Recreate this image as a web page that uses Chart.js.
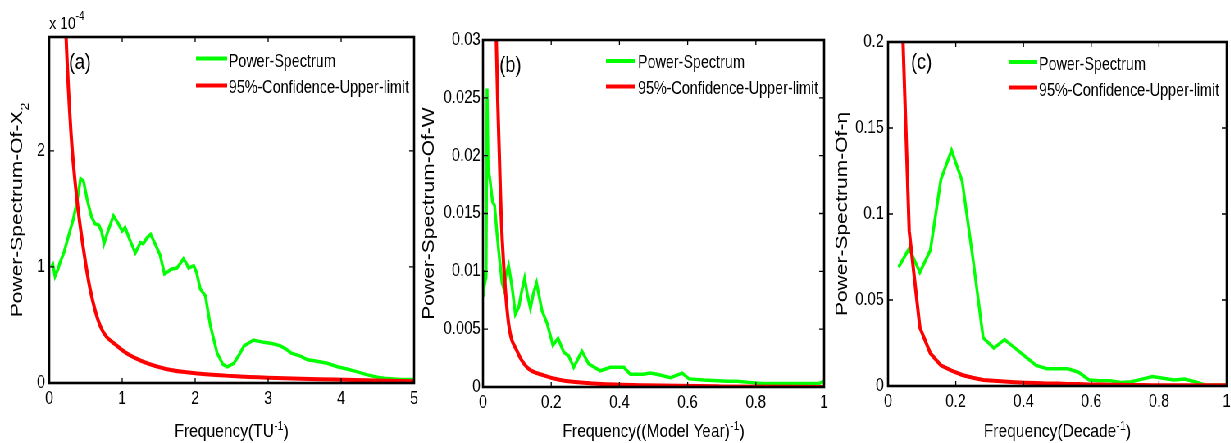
<!DOCTYPE html>
<html lang="en">
<head>
<meta charset="UTF-8">
<title>Power spectra</title>
<script src="https://cdn.jsdelivr.net/npm/chart.js"></script>
<style>
  html, body { margin: 0; padding: 0; background: #fff; overflow: hidden; }
  /* the reference is horizontally squeezed, so draw wide and squeeze */
  #wrap { position: relative; width: 1501px; height: 443px; transform: scaleX(0.82); transform-origin: 0 0; }
  canvas { position: absolute; top: 0; }
</style>
</head>
<body>
<div id="wrap">
  <canvas id="chartA" width="510" height="443" style="left:0px"></canvas>
  <canvas id="chartB" width="500" height="443" style="left:510px"></canvas>
  <canvas id="chartC" width="491" height="443" style="left:1010px"></canvas>
</div>
<script>
// ---- panel (a): values in units of 1e-4 ----
const freqASpec = [0.03,0.05,0.08,0.12,0.15,0.2,0.24,0.28,0.33,0.38,0.43,0.47,0.52,0.58,0.63,0.68,0.72,0.75,0.8,0.88,0.94,1.0,1.04,1.1,1.18,1.25,1.29,1.34,1.39,1.45,1.52,1.58,1.63,1.67,1.75,1.84,1.88,1.91,1.98,2.02,2.07,2.14,2.21,2.3,2.38,2.44,2.53,2.6,2.67,2.8,2.94,3.05,3.17,3.25,3.31,3.45,3.54,3.65,3.81,3.95,4.08,4.2,4.36,4.5,4.59,4.8,5.0];
const specA     = [1.0,1.02,0.92,0.98,1.04,1.12,1.21,1.3,1.41,1.56,1.76,1.74,1.58,1.43,1.37,1.36,1.3,1.2,1.3,1.44,1.38,1.31,1.34,1.24,1.12,1.21,1.2,1.25,1.28,1.2,1.1,0.94,0.96,0.98,0.99,1.07,1.03,0.99,1.01,0.95,0.81,0.75,0.49,0.26,0.16,0.14,0.17,0.24,0.32,0.37,0.35,0.34,0.32,0.29,0.26,0.23,0.2,0.19,0.17,0.14,0.12,0.1,0.07,0.05,0.04,0.03,0.03];
const freqAConf = [0.19,0.23,0.3,0.38,0.47,0.56,0.7,0.93,1.16,1.6,2.07,2.5,3.0,3.9,5.0];
const confA     = [3.8,3.0,2.14,1.58,1.15,0.81,0.49,0.32,0.22,0.12,0.08,0.06,0.045,0.03,0.015];
const xTicksA = [0,1,2,3,4,5];
const xLabelsA = ['0','1','2','3','4','5'];
const yTicksA = [0,1,2];
const yLabelsA = ['0','1','2'];

// ---- panel (b) ----
const freqBSpec = [0.002,0.004,0.007,0.009,0.012,0.015,0.021,0.028,0.034,0.041,0.048,0.056,0.061,0.068,0.075,0.085,0.095,0.105,0.113,0.122,0.13,0.139,0.148,0.157,0.165,0.173,0.188,0.205,0.22,0.237,0.251,0.266,0.278,0.29,0.31,0.344,0.374,0.413,0.432,0.47,0.49,0.51,0.55,0.584,0.604,0.648,0.716,0.745,0.78,0.814,0.863,0.96,0.985,1.0];
const specB     = [0.0078,0.0101,0.0092,0.0095,0.0258,0.019,0.0178,0.016,0.0157,0.0133,0.0112,0.009,0.0085,0.0098,0.0105,0.0087,0.0063,0.0069,0.0082,0.0094,0.008,0.0068,0.0081,0.009,0.0078,0.0066,0.0055,0.0036,0.0042,0.003,0.0027,0.0017,0.0024,0.0031,0.002,0.0014,0.0017,0.0017,0.0011,0.0011,0.0012,0.0011,0.0008,0.0012,0.0007,0.0006,0.0005,0.0005,0.0004,0.0003,0.0003,0.0003,0.0003,0.0005];
const freqBConf = [0.035,0.039,0.043,0.048,0.053,0.061,0.075,0.1,0.129,0.178,0.227,0.325,0.47,0.7,1.0];
const confB     = [0.036,0.03,0.025,0.02,0.015,0.0104,0.0055,0.0031,0.0017,0.001,0.0006,0.0003,0.00015,0.00005,0.0];
const xTicksB = [0,0.2,0.4,0.6,0.8,1];
const xLabelsB = ['0','0.2','0.4','0.6','0.8','1'];
const yTicksB = [0,0.005,0.01,0.015,0.02,0.025,0.03];
const yLabelsB = ['0','0.005','0.01','0.015','0.02','0.025','0.03'];

// ---- panel (c) ----
const freqC = [0.031,0.0625,0.094,0.125,0.156,0.1875,0.219,0.25,0.281,0.3125,0.344,0.375,0.406,0.4375,0.469,0.5,0.531,0.5625,0.594,0.625,0.656,0.6875,0.719,0.75,0.781,0.8125,0.844,0.875,0.906,0.9375,0.969,1.0];
const specC = [0.069,0.08,0.066,0.079,0.12,0.137,0.119,0.075,0.028,0.022,0.027,0.022,0.017,0.012,0.01,0.01,0.01,0.008,0.0035,0.003,0.003,0.002,0.0025,0.004,0.0055,0.0045,0.0035,0.004,0.0025,0.0005,0.0005,0.0005];
const confC = [0.28,0.09,0.034,0.019,0.012,0.0089,0.0064,0.0048,0.0035,0.003,0.0026,0.0022,0.0019,0.0017,0.0015,0.0014,0.0012,0.0011,0.0009,0.0008,0.0007,0.0007,0.0006,0.0006,0.0005,0.0005,0.0005,0.0004,0.0004,0.0004,0.0004,0.0004];
const xTicksC = [0,0.2,0.4,0.6,0.8,1];
const xLabelsC = ['0','0.2','0.4','0.6','0.8','1'];
const yTicksC = [0,0.05,0.1,0.15,0.2];
const yLabelsC = ['0','0.05','0.1','0.15','0.2'];

const FONT = "'Liberation Sans', Arial, Helvetica, sans-serif";
const GREEN = '#00ff00';
const RED = '#ff0000';

function toXY(xs, ys) {
    return xs.map((x, i) => ({ x: x, y: ys[i] }));
}

// draws text pieces side by side (for super/subscripts)
function drawRich(ctx, parts, x, y, align) {
    let w = 0;
    parts.forEach(p => { ctx.font = p.s + 'px ' + FONT; w += ctx.measureText(p.t).width; });
    let cx = align === 'center' ? x - w / 2 : x;
    parts.forEach(p => {
        ctx.font = p.s + 'px ' + FONT;
        ctx.fillText(p.t, cx, y + (p.dy || 0));
        cx += ctx.measureText(p.t).width;
    });
}

// MATLAB-like box: inward ticks, frame, inline legend, labels
const matlabFrame = {
    id: 'matlabFrame',
    afterDraw(chart, args, o) {
        const ctx = chart.ctx;
        const { left, top, right, bottom } = chart.chartArea;
        const xs = chart.scales.x, ys = chart.scales.y;
        ctx.save();
        ctx.strokeStyle = '#000';
        ctx.lineWidth = 1.3;
        ctx.beginPath();
        xs.ticks.forEach(t => {
            const px = xs.getPixelForValue(t.value);
            ctx.moveTo(px, bottom); ctx.lineTo(px, bottom - 5);
            ctx.moveTo(px, top); ctx.lineTo(px, top + 5);
        });
        ys.ticks.forEach(t => {
            const py = ys.getPixelForValue(t.value);
            ctx.moveTo(left, py); ctx.lineTo(left + 6, py);
            ctx.moveTo(right, py); ctx.lineTo(right - 6, py);
        });
        ctx.stroke();
        ctx.lineWidth = 2.6;
        ctx.strokeRect(left, top, right - left, bottom - top);

        ctx.fillStyle = '#000';
        ctx.textAlign = 'left';
        ctx.textBaseline = 'alphabetic';
        const lg = o.legend;
        chart.data.datasets.forEach((ds, i) => {
            ctx.strokeStyle = ds.borderColor;
            ctx.lineWidth = 4;
            ctx.beginPath();
            ctx.moveTo(lg.x0, lg.lineY[i]);
            ctx.lineTo(lg.x1, lg.lineY[i]);
            ctx.stroke();
            ctx.font = '17.5px ' + FONT;
            ctx.fillText(ds.label, lg.tx, lg.baseY[i]);
        });

        ctx.font = '22px ' + FONT;
        ctx.fillText(o.tag.text, o.tag.x, o.tag.y);

        drawRich(ctx, o.xTitle, (left + right) / 2, 437, 'center');

        ctx.save();
        ctx.translate(o.yTitleX, (top + bottom) / 2);
        ctx.rotate(-Math.PI / 2);
        drawRich(ctx, o.yTitle, 0, 0, 'center');
        ctx.restore();

        if (o.exponent) drawRich(ctx, o.exponent, o.exponentX, o.exponentY, 'left');
        ctx.restore();
    }
};

function makeChart(id, p) {
    new Chart(document.getElementById(id), {
        type: 'line',
        data: {
            datasets: [
                { label: 'Power-Spectrum', data: p.spec, borderColor: GREEN, borderWidth: 3.5,
                  pointRadius: 0, tension: 0, clip: 0, order: 1 },
                { label: '95%-Confidence-Upper-limit', data: p.conf, borderColor: RED, borderWidth: 4,
                  pointRadius: 0, clip: 0, order: 0,
                  cubicInterpolationMode: p.smoothConf ? 'monotone' : 'default', tension: 0 }
            ]
        },
        options: {
            responsive: false,
            animation: false,
            events: [],
            layout: { padding: { top: p.top, right: p.right, left: 0, bottom: 0 } },
            scales: {
                x: {
                    type: 'linear', min: p.xMin, max: p.xMax,
                    afterBuildTicks: s => { s.ticks = p.xTicks.map(v => ({ value: v })); },
                    afterFit: s => { s.height = p.xAxisH; s.paddingLeft = 0; s.paddingRight = 0; },
                    grid: { display: false, drawTicks: false },
                    border: { display: false },
                    ticks: { color: '#000', font: { family: FONT, size: 18 }, padding: 5,
                             maxRotation: 0, autoSkip: false, callback: (v, i) => p.xLabels[i] }
                },
                y: {
                    type: 'linear', min: 0, max: p.yMax,
                    afterBuildTicks: s => { s.ticks = p.yTicks.map(v => ({ value: v })); },
                    afterFit: s => { s.width = p.yAxisW; s.paddingTop = 0; s.paddingBottom = 0; },
                    grid: { display: false, drawTicks: false },
                    border: { display: false },
                    ticks: { color: '#000', font: { family: FONT, size: 18 }, padding: p.yPad,
                             autoSkip: false, callback: (v, i) => p.yLabels[i] }
                }
            },
            plugins: {
                legend: { display: false },
                tooltip: { enabled: false },
                matlabFrame: p.frame
            }
        },
        plugins: [matlabFrame]
    });
}

makeChart('chartA', {
    spec: toXY(freqASpec, specA), conf: toXY(freqAConf, confA), smoothConf: true,
    xMin: 0, xMax: 5, yMax: 2.98,
    xTicks: xTicksA, xLabels: xLabelsA, yTicks: yTicksA, yLabels: yLabelsA,
    top: 37, right: 5, yAxisW: 60, xAxisH: 60, yPad: 5,
    frame: {
        legend: { x0: 239, x1: 277, tx: 279, lineY: [58.5, 85.5], baseY: [67, 92.5] },
        tag: { text: '(a)', x: 84, y: 69 },
        xTitle: [{ t: 'Frequency(TU', s: 19 }, { t: '-1', s: 13, dy: -7 }, { t: ')', s: 19 }],
        yTitle: [{ t: 'Power-Spectrum-Of-X', s: 21 }, { t: '2', s: 14, dy: 8 }],
        yTitleX: 27,
        exponent: [{ t: 'x 10', s: 17 }, { t: '-4', s: 12, dy: -9 }],
        exponentX: 60, exponentY: 29
    }
});

makeChart('chartB', {
    spec: toXY(freqBSpec, specB), conf: toXY(freqBConf, confB), smoothConf: true,
    xMin: 0, xMax: 1, yMax: 0.03,
    xTicks: xTicksB, xLabels: xLabelsB, yTicks: yTicksB, yLabels: yLabelsB,
    top: 40, right: 5, yAxisW: 79, xAxisH: 56, yPad: 3,
    frame: {
        legend: { x0: 229, x1: 264, tx: 268, lineY: [61, 86.5], baseY: [68, 94] },
        tag: { text: '(b)', x: 99, y: 72 },
        xTitle: [{ t: 'Frequency((Model Year)', s: 19 }, { t: '-1', s: 13, dy: -7 }, { t: ')', s: 19 }],
        yTitle: [{ t: 'Power-Spectrum-Of-W', s: 21 }],
        yTitleX: 19
    }
});

makeChart('chartC', {
    spec: toXY(freqC, specC), conf: toXY(freqC, confC), smoothConf: false,
    xMin: 0, xMax: 1, yMax: 0.2,
    xTicks: xTicksC, xLabels: xLabelsC, yTicks: yTicksC, yLabels: yLabelsC,
    top: 42, right: 5, yAxisW: 73, xAxisH: 57, yPad: 5,
    frame: {
        legend: { x0: 220, x1: 255, tx: 257, lineY: [62, 87.5], baseY: [70, 96] },
        tag: { text: '(c)', x: 101, y: 69 },
        xTitle: [{ t: 'Frequency(Decade', s: 19 }, { t: '-1', s: 13, dy: -7 }, { t: ')', s: 19 }],
        yTitle: [{ t: 'Power-Spectrum-Of-η', s: 21 }],
        yTitleX: 23
    }
});
</script>
</body>
</html>
